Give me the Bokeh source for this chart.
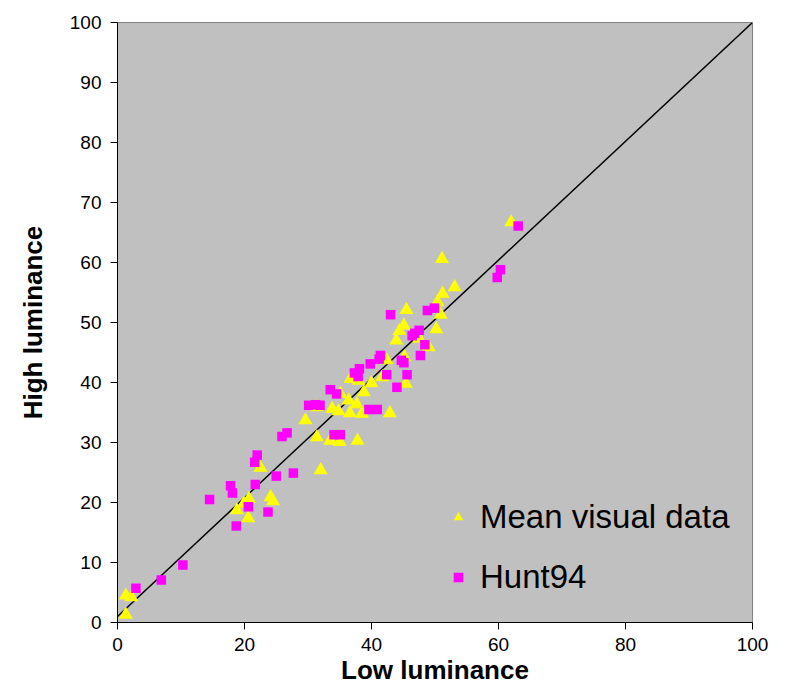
from bokeh.plotting import figure
from bokeh.models import Legend, LegendItem, Range1d, FixedTicker
from bokeh.embed import file_html
from bokeh.resources import INLINE

# Mean visual data (triangles)
mean_x = [62.0, 51.1, 53.1, 51.2, 50.4, 45.5, 50.9, 45.1, 44.4, 50.2, 43.9, 47.5,
          49.0, 45.2, 42.4, 45.4, 36.7, 38.0, 41.7, 40.0, 38.8, 35.1, 36.4, 37.7,
          33.8, 34.8, 31.4, 36.6, 38.5, 42.9, 29.6, 31.4, 33.5, 35.0, 37.8, 32.0,
          22.5, 18.8, 20.7, 20.6, 24.1, 24.5, 1.3, 2.2, 1.3, 19.9]
mean_y = [66.7, 60.6, 55.9, 54.8, 53.4, 52.1, 51.3, 49.5, 48.6, 48.9, 47.0, 47.3,
          45.9, 44.2, 43.7, 39.8, 40.6, 40.3, 40.9, 39.9, 38.4, 38.1, 37.0, 36.4,
          35.6, 35.2, 35.9, 34.9, 34.8, 34.9, 33.7, 30.9, 30.3, 30.1, 30.3, 25.4,
          25.8, 18.7, 20.6, 17.4, 20.9, 20.2, 4.5, 4.2, 1.3, 19.8]

# Hunt94 (squares)
hunt_x = [63.1, 60.3, 59.8, 43.0, 48.8, 49.9, 46.4, 47.5, 46.8, 48.4, 47.7, 41.4,
          41.2, 39.8, 44.7, 45.1, 38.1, 37.3, 37.9, 45.6, 42.4, 44.0, 33.5, 34.5,
          30.1, 31.2, 31.9, 39.6, 40.9, 34.1, 35.1, 26.7, 25.9, 22.0, 21.6, 21.7,
          25.0, 27.7, 14.5, 17.8, 18.1, 20.6, 23.7, 18.7, 10.3, 6.9, 2.9]
hunt_y = [66.1, 58.8, 57.5, 51.3, 52.0, 52.4, 47.8, 48.7, 48.2, 46.3, 44.5, 44.5,
          43.9, 43.1, 43.7, 43.3, 42.3, 41.6, 41.0, 41.3, 41.3, 39.2, 38.8, 38.1,
          36.2, 36.3, 36.2, 35.5, 35.5, 31.3, 31.3, 31.6, 31.0, 27.9, 26.7, 23.0,
          24.4, 24.9, 20.5, 22.8, 21.6, 19.3, 18.4, 16.1, 9.6, 7.1, 5.7]

# reference line
line_x = [0, 100]
line_y = [1, 100]

ticks = [0, 20, 40, 60, 80, 100]
yticks = [0, 10, 20, 30, 40, 50, 60, 70, 80, 90, 100]

p = figure(width=789, height=688, output_backend="svg", toolbar_location=None,
           x_range=Range1d(0, 100), y_range=Range1d(0, 100),
           min_border_left=117, min_border_right=37, min_border_top=22, min_border_bottom=66)
p.background_fill_color = "#C0C0C0"
p.border_fill_color = "white"
p.outline_line_color = "#808080"
p.outline_line_width = 1
p.xgrid.visible = False
p.ygrid.visible = False

p.line(line_x, line_y, line_color="black", line_width=1.5)
r1 = p.scatter(mean_x, mean_y, marker="triangle", size=14, fill_color="#FFFF00", line_color=None)
r2 = p.scatter(hunt_x, hunt_y, marker="square", size=9.5, fill_color="#FF00FF", line_color=None)

for ax in (p.xaxis[0], p.yaxis[0]):
    ax.axis_line_color = "black"
    ax.major_tick_line_color = "black"
    ax.major_tick_out = 7
    ax.major_tick_in = 0
    ax.minor_tick_line_color = None
    ax.major_label_text_font = "Liberation Sans"
    ax.major_label_text_font_size = "19px"
    ax.major_label_text_color = "black"
    ax.axis_label_text_font = "Liberation Sans"
    ax.axis_label_text_font_size = "26px"
    ax.axis_label_text_font_style = "bold"
    ax.axis_label_text_color = "black"

p.xaxis.ticker = FixedTicker(ticks=ticks)
p.yaxis.ticker = FixedTicker(ticks=yticks)
p.xaxis.axis_label = "Low luminance"
p.yaxis.axis_label = "High luminance"
p.xaxis.major_label_standoff = 8
p.yaxis.major_label_standoff = 9
p.xaxis.axis_label_standoff = 1
p.yaxis.axis_label_standoff = 19

legend = Legend(items=[LegendItem(label="Mean visual data", renderers=[r1]),
                       LegendItem(label="Hunt94", renderers=[r2])],
                location=(329, 26))
legend.background_fill_alpha = 0
legend.border_line_color = None
legend.label_text_font = "Liberation Sans"
legend.label_text_font_size = "33px"
legend.label_text_color = "black"
legend.glyph_width = 24
legend.glyph_height = 24
legend.label_standoff = 10
legend.spacing = 22
legend.padding = 10
p.add_layout(legend, "center")

open("out.html", "w").write(file_html(p, INLINE))
